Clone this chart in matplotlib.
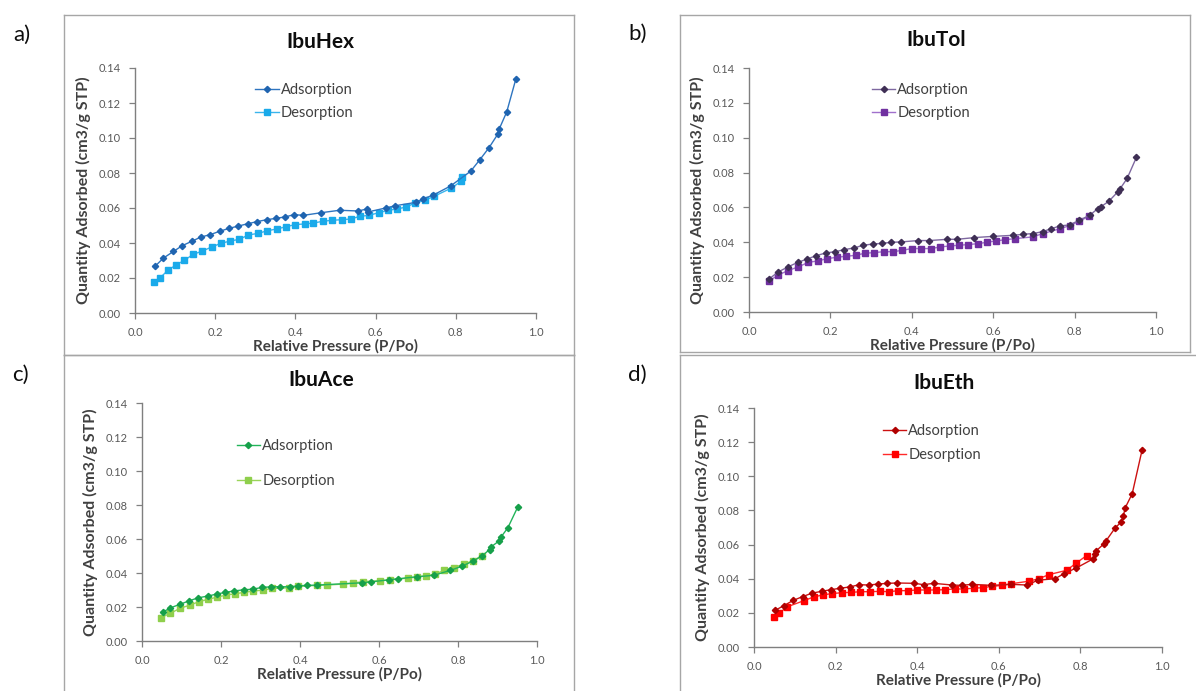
import matplotlib

matplotlib.use("Agg")
import matplotlib.pyplot as plt
from matplotlib.lines import Line2D

plt.rcParams["font.family"] = ["Lato", "DejaVu Sans"]

W, H = 1196, 691

# ---- data ----
HEX_ADS_X = [0.050, 0.071, 0.096, 0.118, 0.142, 0.164, 0.188, 0.211, 0.235, 0.258,
             0.281, 0.304, 0.328, 0.352, 0.374, 0.397, 0.420, 0.464, 0.510, 0.556,
             0.578, 0.580, 0.625, 0.649, 0.700, 0.719, 0.744, 0.787, 0.837, 0.860,
             0.883, 0.905, 0.908, 0.927, 0.950]
HEX_ADS_Y = [0.0267, 0.0314, 0.0352, 0.0385, 0.0410, 0.0434, 0.0448, 0.0467, 0.0484, 0.0497,
             0.0510, 0.0522, 0.0533, 0.0541, 0.0549, 0.0562, 0.0558, 0.0573, 0.0587, 0.0583,
             0.0594, 0.0577, 0.0600, 0.0613, 0.0632, 0.0653, 0.0674, 0.0726, 0.0810, 0.0876,
             0.0945, 0.1023, 0.1050, 0.1149, 0.1339]
HEX_DES_X = [0.048, 0.062, 0.082, 0.102, 0.123, 0.145, 0.168, 0.191, 0.214, 0.237,
             0.260, 0.283, 0.307, 0.330, 0.353, 0.377, 0.399, 0.423, 0.445, 0.468,
             0.492, 0.515, 0.538, 0.560, 0.583, 0.608, 0.631, 0.653, 0.677, 0.698,
             0.723, 0.746, 0.789, 0.813, 0.815]
HEX_DES_Y = [0.0177, 0.0200, 0.0244, 0.0274, 0.0301, 0.0335, 0.0354, 0.0377, 0.0398, 0.0411,
             0.0421, 0.0446, 0.0455, 0.0470, 0.0480, 0.0493, 0.0505, 0.0509, 0.0514, 0.0524,
             0.0530, 0.0533, 0.0537, 0.0552, 0.0558, 0.0573, 0.0587, 0.0594, 0.0606, 0.0629,
             0.0644, 0.0667, 0.0714, 0.0752, 0.0777]

TOL_ADS_X = [0.050, 0.072, 0.095, 0.120, 0.143, 0.165, 0.189, 0.212, 0.234, 0.257,
             0.281, 0.304, 0.327, 0.350, 0.373, 0.416, 0.443, 0.487, 0.511, 0.554,
             0.600, 0.649, 0.674, 0.697, 0.722, 0.742, 0.765, 0.788, 0.811, 0.837,
             0.857, 0.864, 0.884, 0.906, 0.912, 0.929, 0.952]
TOL_ADS_Y = [0.0191, 0.0230, 0.0258, 0.0285, 0.0304, 0.0323, 0.0339, 0.0346, 0.0358, 0.0367,
             0.0383, 0.0390, 0.0394, 0.0400, 0.0402, 0.0410, 0.0410, 0.0417, 0.0417, 0.0427,
             0.0434, 0.0440, 0.0446, 0.0450, 0.0461, 0.0478, 0.0494, 0.0500, 0.0526, 0.0555,
             0.0593, 0.0603, 0.0635, 0.0689, 0.0708, 0.0766, 0.0888]
TOL_DES_X = [0.048, 0.071, 0.095, 0.120, 0.146, 0.169, 0.192, 0.216, 0.239, 0.262,
             0.284, 0.308, 0.331, 0.354, 0.377, 0.400, 0.423, 0.447, 0.470, 0.493,
             0.516, 0.539, 0.562, 0.585, 0.607, 0.630, 0.654, 0.697, 0.722, 0.765,
             0.788, 0.812, 0.836]
TOL_DES_Y = [0.0176, 0.0211, 0.0237, 0.0258, 0.0285, 0.0293, 0.0306, 0.0314, 0.0320, 0.0325,
             0.0337, 0.0341, 0.0346, 0.0346, 0.0354, 0.0364, 0.0364, 0.0364, 0.0373, 0.0379,
             0.0383, 0.0387, 0.0392, 0.0400, 0.0408, 0.0415, 0.0421, 0.0431, 0.0450, 0.0478,
             0.0496, 0.0521, 0.0551]

ACE_ADS_X = [0.053, 0.071, 0.095, 0.118, 0.142, 0.166, 0.189, 0.211, 0.234, 0.258,
             0.281, 0.304, 0.327, 0.350, 0.374, 0.396, 0.418, 0.442, 0.556, 0.580,
             0.626, 0.649, 0.696, 0.738, 0.780, 0.810, 0.838, 0.860, 0.880, 0.884,
             0.903, 0.909, 0.926, 0.951]
ACE_ADS_Y = [0.0170, 0.0194, 0.0215, 0.0235, 0.0254, 0.0264, 0.0276, 0.0286, 0.0295, 0.0301,
             0.0305, 0.0315, 0.0319, 0.0319, 0.0319, 0.0325, 0.0327, 0.0329, 0.0342, 0.0348,
             0.0360, 0.0366, 0.0378, 0.0386, 0.0415, 0.0440, 0.0470, 0.0499, 0.0538, 0.0554,
             0.0587, 0.0612, 0.0665, 0.0787]
ACE_DES_X = [0.047, 0.071, 0.096, 0.121, 0.144, 0.167, 0.190, 0.213, 0.236, 0.259,
             0.282, 0.306, 0.329, 0.373, 0.396, 0.442, 0.468, 0.510, 0.535, 0.560,
             0.603, 0.628, 0.673, 0.696, 0.719, 0.741, 0.765, 0.789, 0.814, 0.838,
             0.860]
ACE_DES_Y = [0.0137, 0.0162, 0.0192, 0.0211, 0.0231, 0.0245, 0.0258, 0.0270, 0.0278, 0.0286,
             0.0294, 0.0299, 0.0309, 0.0313, 0.0321, 0.0327, 0.0329, 0.0335, 0.0341, 0.0350,
             0.0354, 0.0360, 0.0370, 0.0376, 0.0384, 0.0393, 0.0415, 0.0432, 0.0452, 0.0472,
             0.0501]

ETH_ADS_X = [0.052, 0.073, 0.096, 0.119, 0.143, 0.166, 0.189, 0.211, 0.235, 0.258,
             0.282, 0.305, 0.327, 0.351, 0.393, 0.416, 0.440, 0.486, 0.509, 0.534,
             0.582, 0.629, 0.670, 0.695, 0.738, 0.760, 0.790, 0.831, 0.837, 0.839,
             0.858, 0.862, 0.885, 0.899, 0.905, 0.910, 0.927, 0.951]
ETH_ADS_Y = [0.0215, 0.0242, 0.0273, 0.0295, 0.0316, 0.0326, 0.0336, 0.0344, 0.0352, 0.0365,
             0.0363, 0.0369, 0.0373, 0.0375, 0.0373, 0.0365, 0.0373, 0.0363, 0.0361, 0.0367,
             0.0361, 0.0367, 0.0363, 0.0391, 0.0400, 0.0430, 0.0463, 0.0516, 0.0547, 0.0564,
             0.0605, 0.0619, 0.0697, 0.0730, 0.0766, 0.0816, 0.0898, 0.1152]
ETH_DES_X = [0.049, 0.062, 0.082, 0.122, 0.146, 0.169, 0.191, 0.215, 0.238, 0.261,
             0.285, 0.308, 0.331, 0.354, 0.377, 0.400, 0.423, 0.446, 0.469, 0.492,
             0.514, 0.538, 0.561, 0.584, 0.608, 0.631, 0.673, 0.698, 0.723, 0.766,
             0.790, 0.815]
ETH_DES_Y = [0.0174, 0.0199, 0.0236, 0.0271, 0.0293, 0.0305, 0.0313, 0.0318, 0.0320, 0.0324,
             0.0324, 0.0326, 0.0324, 0.0330, 0.0330, 0.0334, 0.0334, 0.0334, 0.0336, 0.0340,
             0.0340, 0.0344, 0.0348, 0.0355, 0.0361, 0.0371, 0.0385, 0.0400, 0.0424, 0.0449,
             0.0492, 0.0535]

SERIES = ["Adsorption", "Desorption"]
X_TICKS = [0.0, 0.2, 0.4, 0.6, 0.8, 1.0]
Y_TICKS = [0.00, 0.02, 0.04, 0.06, 0.08, 0.10, 0.12, 0.14]

TICK_GREY = "#595959"
LABEL_INK = "#404040"
BOX = "#a6a6a6"

# panel: axes box (px: left, top, right, bottom), title centre, letter pos,
# legend anchor (axes frac), legend row gap, colours
PANELS = [
    dict(title="IbuHex", letter="a)", box=(135, 68, 536, 313), title_xy=(320, 42), letter_xy=(22, 35),
         legend=(0.300, 0.940), gap=0.62, ads=(HEX_ADS_X, HEX_ADS_Y), des=(HEX_DES_X, HEX_DES_Y),
         ads_line="#2e75c0", ads_mark="#1f64b0", des_line="#3ab4ec", des_mark="#1aaaea"),
    dict(title="IbuTol", letter="b)", box=(749, 68, 1156, 312), title_xy=(936, 40), letter_xy=(638, 34),
         legend=(0.302, 0.940), gap=0.62, ads=(TOL_ADS_X, TOL_ADS_Y), des=(TOL_DES_X, TOL_DES_Y),
         ads_line="#7e68a0", ads_mark="#3f2f55", des_line="#a070cc", des_mark="#7030a0"),
    dict(title="IbuAce", letter="c)", box=(142, 403, 537, 641), title_xy=(321, 380), letter_xy=(20, 375),
         legend=(0.240, 0.848), gap=1.45, ads=(ACE_ADS_X, ACE_ADS_Y), des=(ACE_DES_X, ACE_DES_Y),
         ads_line="#22b45a", ads_mark="#16a04a", des_line="#9ad45a", des_mark="#8fcf4c"),
    dict(title="IbuEth", letter="d)", box=(754, 408, 1162, 647), title_xy=(944, 383), letter_xy=(637, 375),
         legend=(0.316, 0.932), gap=0.68, ads=(ETH_ADS_X, ETH_ADS_Y), des=(ETH_DES_X, ETH_DES_Y),
         ads_line="#cc1111", ads_mark="#b00000", des_line="#ff2a2a", des_mark="#ff0000"),
]


def fx(px):
    return px / W


def fy(py):
    return 1 - py / H


def frame(fig, x0, y0, x1, y1):
    for (a, b), (c, d) in [((x0, y0), (x1, y0)), ((x1, y0), (x1, y1)),
                           ((x1, y1), (x0, y1)), ((x0, y1), (x0, y0))]:
        fig.add_artist(Line2D([fx(a), fx(c)], [fy(b), fy(d)], color=BOX, lw=1.0))


fig = plt.figure(figsize=(W / 100, H / 100), dpi=100)

# panel frames as in the pasted slide
frame(fig, 64, 15, 574, 355)
frame(fig, 680, 15, 1190, 352)
frame(fig, 64, 355, 574, 700)
frame(fig, 680, 355, 1210, 700)

for p in PANELS:
    l, t, r, b = p["box"]
    ax = fig.add_axes([fx(l), fy(b), (r - l) / W, (b - t) / H])
    ax.plot(*p["ads"], color=p["ads_line"], lw=1.0, marker="D", ms=3.2,
            mfc=p["ads_mark"], mec=p["ads_mark"], label=SERIES[0], zorder=3)
    ax.plot(*p["des"], color=p["des_line"], lw=1.0, marker="s", ms=4.8,
            mfc=p["des_mark"], mec=p["des_mark"], label=SERIES[1], zorder=2)

    ax.set_xlim(0, 1.0)
    ax.set_ylim(0, 0.14)
    ax.set_xticks(X_TICKS, [f"{v:.1f}" for v in X_TICKS])
    ax.set_yticks(Y_TICKS, [f"{v:.2f}" for v in Y_TICKS])
    ax.tick_params(direction="out", length=4, width=0.9, color="#808080",
                   labelcolor=TICK_GREY, labelsize=8, pad=6)
    for side in ("top", "right"):
        ax.spines[side].set_visible(False)
    for side in ("left", "bottom"):
        ax.spines[side].set_color("#7f7f7f")
        ax.spines[side].set_linewidth(1.0)
    ax.patch.set_alpha(0)

    ax.set_xlabel("Relative Pressure (P/Po)", fontsize=11, fontweight="bold",
                  color=LABEL_INK, labelpad=1)
    ax.set_ylabel("Quantity Adsorbed (cm3/g STP)", fontsize=11.5, fontweight="bold",
                  color=LABEL_INK, labelpad=6)

    ax.legend(loc="upper left", bbox_to_anchor=p["legend"], frameon=False,
              fontsize=10.5, labelcolor=LABEL_INK, handlelength=1.6, handletextpad=0.15,
              borderpad=0, borderaxespad=0, labelspacing=p["gap"], numpoints=1)

    fig.text(fx(p["title_xy"][0]), fy(p["title_xy"][1]), p["title"], ha="center",
             va="center", fontsize=15, fontweight="bold", color="#0d0d0d")
    fig.text(fx(p["letter_xy"][0]), fy(p["letter_xy"][1]), p["letter"], ha="center",
             va="center", fontsize=16, color="#0d0d0d")

fig.savefig("out.png", dpi=100, facecolor="white")
